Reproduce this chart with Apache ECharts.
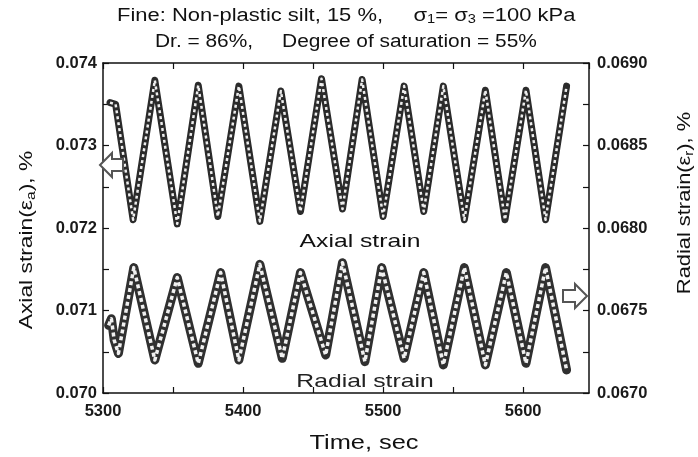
<!DOCTYPE html>
<html>
<head>
<meta charset="utf-8">
<script src="https://cdn.jsdelivr.net/npm/echarts@6/dist/echarts.min.js"></script>
<style>html,body{margin:0;padding:0;background:#fff}#c{width:698px;height:457px}</style>
</head>
<body>
<div id="c"></div>
<script>
// Axial strain (left axis), read at turning points
var axialTime = [5305, 5309, 5321.5, 5337, 5353, 5368, 5382, 5397, 5412, 5427, 5441, 5456, 5471, 5485, 5500, 5515, 5529, 5543, 5558, 5573, 5587, 5602, 5616, 5631];
var axialStrain = [0.07352, 0.07350, 0.07210, 0.07379, 0.07205, 0.07373, 0.07214, 0.07372, 0.07208, 0.07366, 0.07220, 0.07381, 0.07223, 0.07380, 0.07214, 0.07372, 0.07220, 0.07372, 0.07210, 0.07367, 0.07210, 0.07367, 0.07210, 0.07372];
// Radial strain (right axis), read at turning points
var radialTime = [5304, 5306, 5308, 5311, 5322, 5337, 5353, 5368, 5384, 5397, 5412, 5428, 5441, 5459, 5471, 5487, 5499, 5515, 5529, 5543, 5558, 5573, 5588, 5602, 5616, 5631];
var radialStrain = [0.06741, 0.06745, 0.06732, 0.06724, 0.06776, 0.06720, 0.06770, 0.06718, 0.06773, 0.06720, 0.06778, 0.06721, 0.06773, 0.06723, 0.06779, 0.06719, 0.06776, 0.06721, 0.06773, 0.06717, 0.06776, 0.06717, 0.06773, 0.06718, 0.06776, 0.06714];
// Axis tick labels
var timeTicks = [5300, 5400, 5500, 5600];
var axialTicks = [0.070, 0.071, 0.072, 0.073, 0.074];
var radialTicks = [0.0670, 0.0675, 0.0680, 0.0685, 0.0690];

function pairs(t, v) { return t.map(function (x, i) { return [x, v[i]]; }); }
var axialData = pairs(axialTime, axialStrain);
var radialData = pairs(radialTime, radialStrain);

function near(list, v) { for (var i = 0; i < list.length; i++) { if (Math.abs(list[i] - v) < 1e-7) return list[i]; } return null; }

var FONT = '"Liberation Sans", Arial, sans-serif';
var chart = echarts.init(document.getElementById('c'), null, {renderer: 'canvas'});
var tickStyle = {show: true, inside: true, length: 6, lineStyle: {color: '#111', width: 1.2}};
var lineStyleAxis = {show: true, lineStyle: {color: '#111', width: 1.5}};
var labelStyle = {fontFamily: FONT, fontWeight: 'bold', fontSize: 16.5, color: '#1a1a1a'};
var subRich = function (size) { return {s: {fontFamily: FONT, fontSize: size, fill: '#111', color: '#111', verticalAlign: 'bottom', padding: [Math.round(size * 0.6), 0, 0, 0]}}; };

function txt(text, x, y, size, sx, opts) {
  opts = opts || {};
  var align = opts.align || 'center';
  return {type: 'text', x: x, y: y, rotation: opts.rot || 0, scaleX: sx, z: 10,
    style: {text: text, font: (opts.weight || 'normal') + ' ' + size + 'px ' + FONT, fill: opts.fill || '#111',
      align: align, textAlign: align, verticalAlign: 'middle', textVerticalAlign: 'middle',
      rich: opts.rich}};
}

chart.setOption({
  animation: false,
  backgroundColor: '#fff',
  grid: {left: 103, right: 109, top: 63, bottom: 64, containLabel: false},
  xAxis: [
    {type: 'value', min: 5300, max: 5647, interval: 50, position: 'bottom',
     axisLine: lineStyleAxis, axisTick: tickStyle, splitLine: {show: false},
     axisLabel: Object.assign({margin: 10, showMaxLabel: false, formatter: function (v) { var t = near(timeTicks, v); return t === null ? '' : String(t); }}, labelStyle)},
    {type: 'value', min: 5300, max: 5647, interval: 50, position: 'top',
     axisLine: lineStyleAxis, axisTick: tickStyle, axisLabel: {show: false}, splitLine: {show: false}}
  ],
  yAxis: [
    {type: 'value', min: 0.070, max: 0.074, interval: 0.0005, position: 'left',
     axisLine: lineStyleAxis, axisTick: tickStyle, splitLine: {show: false},
     axisLabel: Object.assign({margin: 6, formatter: function (v) { var t = near(axialTicks, v); return t === null ? '' : t.toFixed(3); }}, labelStyle)},
    {type: 'value', min: 0.0670, max: 0.0690, interval: 0.00025, position: 'right',
     axisLine: lineStyleAxis, axisTick: tickStyle, splitLine: {show: false},
     axisLabel: Object.assign({margin: 8, formatter: function (v) { var t = near(radialTicks, v); return t === null ? '' : t.toFixed(4); }}, labelStyle)}
  ],
  series: [
    {name: 'Axial strain', type: 'line', xAxisIndex: 0, yAxisIndex: 0, data: axialData,
     symbol: 'none', lineStyle: {color: '#2b2b2b', width: 7, join: 'round', cap: 'round'}, z: 2},
    {name: 'Axial strain ', type: 'line', xAxisIndex: 0, yAxisIndex: 0, data: axialData,
     symbol: 'none', lineStyle: {color: '#eeeeee', width: 2.5, type: [3, 3], join: 'round'}, z: 3},
    {name: 'Radial strain', type: 'line', xAxisIndex: 0, yAxisIndex: 1, data: radialData,
     symbol: 'none', lineStyle: {color: '#303030', width: 9, join: 'round', cap: 'round'}, z: 2},
    {name: 'Radial strain ', type: 'line', xAxisIndex: 0, yAxisIndex: 1, data: radialData,
     symbol: 'none', lineStyle: {color: '#f0f0f0', width: 3.5, type: [4, 3], join: 'round'}, z: 3}
  ],
  graphic: [
    txt('Fine: Non-plastic silt, 15 %,     σ{s|1}= σ{s|3} =100 kPa', 117, 16, 18, 1.22, {align: 'left', rich: subRich(12)}),
    txt('Dr. = 86%,     Degree of saturation = 55%', 155, 42, 18, 1.16, {align: 'left'}),
    txt('Axial strain(ε{s|a}), %', 27, 240, 19, 1.2, {rot: Math.PI / 2, rich: subRich(13)}),
    txt('Radial strain(ε{s|r}), %', 685, 203, 19, 1.15, {rot: Math.PI / 2, rich: subRich(13)}),
    txt('Time, sec', 364, 443, 20, 1.27),
    txt('Axial strain', 360, 242, 19, 1.3),
    txt('Radial strain', 365, 382, 19, 1.3, {fill: '#222'}),
    {type: 'polygon', shape: {points: [[100, 165], [112, 153], [112, 159], [123, 159], [123, 171], [112, 171], [112, 177]]},
     style: {fill: '#fff', stroke: '#555', lineWidth: 2}, z: 10},
    {type: 'polygon', shape: {points: [[587, 296], [575, 284], [575, 290], [563, 290], [563, 302], [575, 302], [575, 308]]},
     style: {fill: '#fff', stroke: '#555', lineWidth: 2}, z: 10}
  ]
});
</script>
</body>
</html>
